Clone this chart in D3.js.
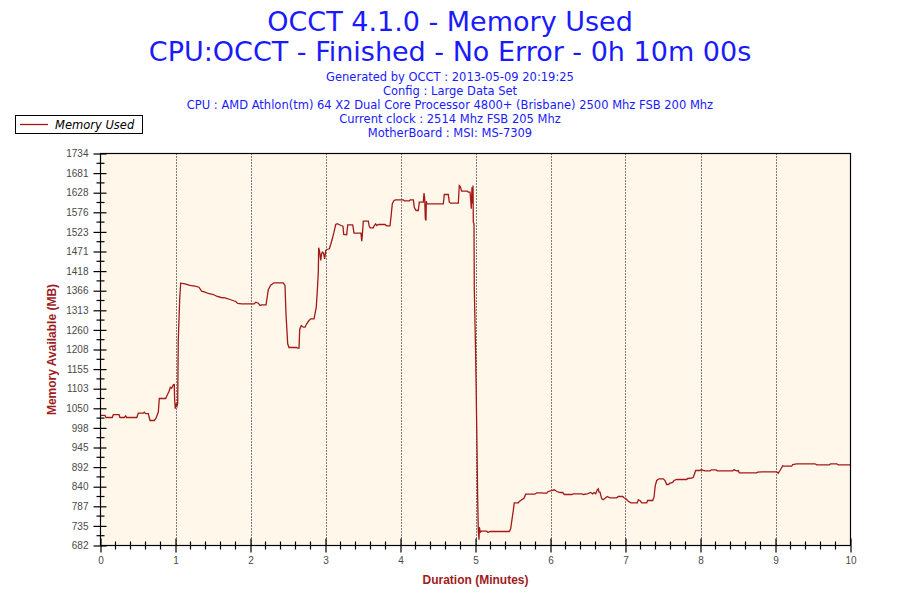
<!DOCTYPE html>
<html>
<head>
<meta charset="utf-8">
<script src="https://cdn.jsdelivr.net/npm/d3@7"></script>
<style>
  html, body { margin: 0; padding: 0; background: #ffffff; }
  svg { display: block; }
</style>
</head>
<body>
<svg id="chart" width="900" height="600"></svg>
<script>
// ---------------- DATA ----------------
const titleLines = ["OCCT 4.1.0 - Memory Used", "CPU:OCCT - Finished - No Error - 0h 10m 00s"];
const infoLines = [
  "Generated by OCCT : 2013-05-09 20:19:25",
  "Config : Large Data Set",
  "CPU : AMD Athlon(tm) 64 X2 Dual Core Processor 4800+ (Brisbane) 2500 Mhz FSB 200 Mhz",
  "Current clock : 2514 Mhz FSB 205 Mhz",
  "MotherBoard : MSI: MS-7309"
];
const seriesName = "Memory Used";
const xAxisTitle = "Duration (Minutes)";
const yAxisTitle = "Memory Available (MB)";
const xTickLabels = ["0","1","2","3","4","5","6","7","8","9","10"];
const yTickLabels = ["682","735","787","840","892","945","998","1050","1103","1155","1208","1260","1313","1366","1418","1471","1523","1576","1628","1681","1734"];
const yMin = 682, yMax = 1734, xMin = 0, xMax = 10;

// time in minutes
const times = [
0,0.06,0.073,0.157,0.171,0.247,0.26,0.317,0.336,0.349,0.483,0.504,0.571,0.584,0.603,0.637,0.66,0.717,0.74,0.771,
0.784,0.869,0.887,0.913,0.931,0.949,0.971,0.984,0.988,0.997,1.007,1.02,1.029,1.037,1.056,1.069,1.127,1.193,1.26,1.313,
1.349,1.393,1.437,1.504,1.549,1.607,1.66,1.727,1.803,1.829,1.883,2.051,2.069,2.104,2.127,2.149,2.207,2.224,2.237,2.269,
2.313,2.437,2.46,2.473,2.496,2.513,2.611,2.629,2.647,2.656,2.677,2.704,2.727,2.749,2.78,2.803,2.847,2.86,2.877,2.891,
2.904,2.909,2.923,2.936,2.949,2.963,2.976,2.989,3.003,3.016,3.051,3.069,3.091,3.113,3.136,3.157,3.207,3.233,3.243,3.283,
3.296,3.363,3.38,3.473,3.483,3.491,3.504,3.571,3.584,3.597,3.637,3.651,3.669,3.683,3.704,3.793,3.816,3.86,3.873,3.891,
3.913,3.936,4.037,4.051,4.117,4.131,4.171,4.184,4.207,4.237,4.251,4.304,4.313,4.323,4.331,4.34,4.344,4.353,4.571,4.584,
4.637,4.651,4.669,4.771,4.784,4.797,4.816,4.893,4.904,4.927,4.936,4.944,4.953,4.963,4.967,4.971,4.98,4.984,5.003,5.016,
5.029,5.037,5.047,5.051,5.064,5.077,5.149,5.167,5.193,5.451,5.469,5.491,5.504,5.517,5.571,5.584,5.616,5.647,5.669,5.793,
5.816,5.883,5.904,5.949,5.971,6.016,6.051,6.083,6.127,6.163,6.184,6.283,6.304,6.416,6.437,6.491,6.536,6.563,6.58,6.603,
6.624,6.637,6.647,6.66,6.683,6.704,6.736,6.757,6.793,6.883,6.904,6.963,6.98,7.007,7.037,7.073,7.157,7.171,7.193,7.216,
7.283,7.296,7.363,7.38,7.397,7.416,7.447,7.504,7.527,7.549,7.571,7.593,7.629,7.647,7.683,7.816,7.829,7.883,7.904,7.936,
7.993,8.007,8.06,8.127,8.149,8.207,8.224,8.429,8.447,8.483,8.504,8.517,8.749,8.763,8.816,9.016,9.037,9.06,9.096,9.113,
9.216,9.229,9.283,9.527,9.549,9.717,9.736,9.816,9.837,10
];
// memory in MB
const memoryUsed = [
1031,1031,1025.5,1025.5,1033,1033,1025.5,1025.5,1030,1025.5,1025.5,1037,1037,1040,1036,1036,1017.5,1017.5,1023.6,1040,
1076.5,1076.5,1084.6,1095.3,1106.8,1104,1113.3,1114,1075.7,1049,1063,1055.8,1063,1232,1344,1386,1384.3,1379.8,1378,1375.2,
1364.5,1361.8,1358.3,1355.6,1351,1347.6,1346.8,1342.2,1336.8,1331.5,1330.6,1330.6,1335,1332.3,1326.1,1328,1328,1350.2,1368.2,1380.6,
1387,1387,1379.8,1303.8,1223.3,1213.4,1213.4,1211.5,1211.5,1261.7,1272.4,1267.9,1267.9,1277,1285.8,1290.4,1290.4,1303.8,1321.5,1366.3,
1415.5,1481,1469.2,1446.9,1466.4,1469.2,1464.8,1451.4,1473.7,1476.4,1478.3,1489.8,1505.1,1522.8,1543.5,1545.4,1540.8,1539,1516.6,1515.8,
1542.7,1542.7,1520.1,1520.1,1498.7,1514,1552.3,1552.3,1538.1,1534.6,1534.6,1540.8,1545.4,1540.8,1543.5,1543.5,1540,1540,1563.1,1599,
1607.9,1609.8,1609.8,1607.1,1607.1,1609.8,1609.8,1589.9,1581,1581,1603.3,1603.3,1627.5,1613.3,1558.8,1554.2,1606,1599,1599,1624,
1624,1603.3,1600.6,1600.6,1648.1,1645.4,1632.8,1632.8,1630.1,1630.1,1607.9,1585.6,1643.6,1599.8,1648.1,1549.6,1545.4,1370.9,1183,1004,
807.3,722.3,697.3,731.1,717.7,720.4,720.4,716.9,719.6,719.6,726.8,758,775.9,796.6,796.6,800.1,804.6,808.9,819.7,819.7,
823.4,823.4,822.4,822.4,826.9,829.6,831.5,826.9,824.2,824.2,818.9,818.9,820.7,820.7,818.9,820.7,824.2,820.7,824.2,820.7,
831.5,834.2,825,825,807.3,804.6,810,813.5,810,810,813.5,813.5,810,807.3,800.9,796.6,796.6,804.6,802.8,796.6,
796.6,802.8,802.8,811.6,843,856.4,861,861,856.4,845.7,845.7,849.2,851.1,856.4,859.1,859.1,861.8,862.6,865.3,883.3,
883.3,885.2,882.5,882.5,885.2,885.2,882.5,882.5,885.2,882.5,883.3,877.1,877.1,878.7,879.8,879.8,876,883.3,895.9,894.8,
894.8,899.4,901.3,901.3,898.6,898.6,901.3,901.3,898.6,898.6
];

// ---------------- LAYOUT ----------------
const plot = { left: 100.5, right: 850.5, top: 153.5, bottom: 545.5 };
const lineColor = "#a31818";
const titleColor = "#a01c1c";
const blue = "#1a1aff";
const tickTextColor = "#4a4a4a";

const svg = d3.select("#chart");

const x = d3.scaleLinear().domain([xMin, xMax]).range([plot.left, plot.right]);
const y = d3.scaleLinear().domain([yMin, yMax]).range([plot.bottom, plot.top]);

// plot background
svg.append("rect")
  .attr("x", plot.left).attr("y", plot.top)
  .attr("width", plot.right - plot.left).attr("height", plot.bottom - plot.top)
  .attr("fill", "#fff8ea");

// vertical dotted gridlines
const xMajor = d3.range(xMin, xMax + 1);
svg.append("g").selectAll("line")
  .data(xMajor.filter(d => d > xMin && d < xMax))
  .join("line")
  .attr("x1", d => Math.round(x(d)) + 0.5).attr("x2", d => Math.round(x(d)) + 0.5)
  .attr("y1", plot.top).attr("y2", plot.bottom)
  .attr("stroke", "#000").attr("stroke-width", 1)
  .attr("stroke-dasharray", "1,2");

// data line
const pts = times.map((t, i) => [t, memoryUsed[i]]);
svg.append("path")
  .datum(pts)
  .attr("fill", "none")
  .attr("stroke", lineColor)
  .attr("stroke-width", 1.3)
  .attr("stroke-linejoin", "miter")
  .attr("d", d3.line().x(d => x(d[0])).y(d => y(d[1])));

// frame
svg.append("rect")
  .attr("x", plot.left).attr("y", plot.top)
  .attr("width", plot.right - plot.left).attr("height", plot.bottom - plot.top)
  .attr("fill", "none").attr("stroke", "#000").attr("stroke-width", 1.2);

// y axis (labels + major ticks)
const yStep = (yMax - yMin) / (yTickLabels.length - 1);
const yMajorVals = yTickLabels.map((_, i) => yMin + i * yStep);
const yAxis = d3.axisLeft(y)
  .tickValues(yMajorVals)
  .tickFormat((d, i) => yTickLabels[i])
  .tickSizeInner(7).tickSizeOuter(0).tickPadding(5);
const gy = svg.append("g").attr("transform", `translate(${plot.left},0)`).call(yAxis);
gy.select(".domain").remove();
gy.selectAll(".tick line").attr("x1", 6).attr("stroke", "#000").attr("stroke-width", 1.2);
gy.selectAll(".tick text").attr("fill", tickTextColor)
  .style("font-family", "'Liberation Sans', Arial, sans-serif").style("font-size", "10px");

// y minor ticks
const yMinorVals = d3.range(yTickLabels.length - 1).map(i => yMin + (i + 0.5) * yStep);
svg.append("g").selectAll("line").data(yMinorVals).join("line")
  .attr("x1", plot.left - 4).attr("x2", plot.left + 4)
  .attr("y1", d => y(d)).attr("y2", d => y(d))
  .attr("stroke", "#000").attr("stroke-width", 1.2);

// x axis
const xAxis = d3.axisBottom(x)
  .tickValues(xMajor)
  .tickFormat((d, i) => xTickLabels[i])
  .tickSizeInner(7).tickSizeOuter(0).tickPadding(4);
const gx = svg.append("g").attr("transform", `translate(0,${plot.bottom})`).call(xAxis);
gx.select(".domain").remove();
gx.selectAll(".tick line").attr("y1", -7).attr("stroke", "#000").attr("stroke-width", 1.2);
gx.selectAll(".tick text").attr("fill", tickTextColor)
  .style("font-family", "'Liberation Sans', Arial, sans-serif").style("font-size", "10px");

// x minor ticks
const xMinorVals = d3.range(0, 50).map(i => i * 0.2).filter(v => Math.abs(v - Math.round(v)) > 1e-6);
svg.append("g").selectAll("line").data(xMinorVals).join("line")
  .attr("x1", d => x(d)).attr("x2", d => x(d))
  .attr("y1", plot.bottom - 4).attr("y2", plot.bottom + 4)
  .attr("stroke", "#000").attr("stroke-width", 1.2);

// axis titles
svg.append("text")
  .attr("x", (plot.left + plot.right) / 2).attr("y", 584)
  .attr("text-anchor", "middle")
  .attr("fill", titleColor)
  .style("font-family", "'Liberation Sans', Arial, sans-serif")
  .style("font-size", "12px").style("font-weight", "bold")
  .text(xAxisTitle);

svg.append("text")
  .attr("transform", `translate(56,${(plot.top + plot.bottom) / 2}) rotate(-90)`)
  .attr("text-anchor", "middle")
  .attr("fill", titleColor)
  .style("font-family", "'Liberation Sans', Arial, sans-serif")
  .style("font-size", "12px").style("font-weight", "bold")
  .text(yAxisTitle);

// titles
const titleFont = "'DejaVu Sans', Tahoma, Verdana, sans-serif";
svg.append("g").selectAll("text").data(titleLines).join("text")
  .attr("x", 450).attr("y", (d, i) => 31 + i * 29.5)
  .attr("text-anchor", "middle")
  .attr("fill", blue)
  .style("font-family", titleFont)
  .style("font-size", "27px")
  .text(d => d);

svg.append("g").selectAll("text").data(infoLines).join("text")
  .attr("x", 450).attr("y", (d, i) => 80.5 + i * 14)
  .attr("text-anchor", "middle")
  .attr("fill", blue)
  .style("font-family", titleFont)
  .style("font-size", "11.5px")
  .text(d => d);

// legend
const lg = svg.append("g");
lg.append("rect").attr("x", 15.5).attr("y", 115.5).attr("width", 127).attr("height", 18)
  .attr("fill", "#fff").attr("stroke", "#000").attr("stroke-width", 1);
lg.append("line").attr("x1", 20).attr("x2", 48).attr("y1", 124.5).attr("y2", 124.5)
  .attr("stroke", lineColor).attr("stroke-width", 1.3);
lg.append("text").attr("x", 55).attr("y", 128.5)
  .attr("fill", "#000")
  .style("font-family", titleFont)
  .style("font-size", "11.5px").style("font-style", "italic")
  .text(seriesName);
</script>
</body>
</html>
